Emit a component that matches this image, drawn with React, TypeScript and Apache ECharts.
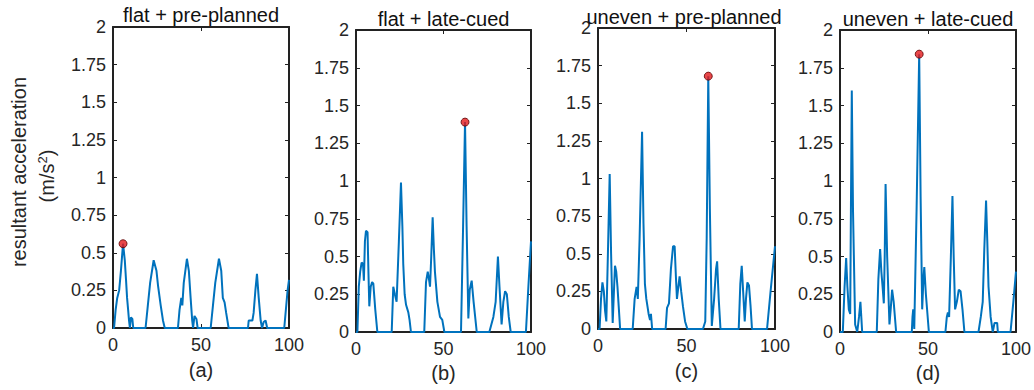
import React, { useEffect, useRef } from "react";
import * as echarts from "echarts";

// ---- data ----
const xA = [0, 0.6, 1.5, 2.4, 3.5, 4.5, 5.7, 6.7, 7.4, 8, 8.6, 9.1, 9.6, 10.2, 11, 11.5, 18.5, 19.8, 21.1, 23.1, 24.7, 25.6, 27.1, 28.4, 29.4, 36.9, 37.8, 38.8, 39.4, 40.2, 42, 43.1, 44.1, 45, 45.5, 46.3, 47.4, 48.1, 55.5, 56.8, 58.1, 60.2, 61.5, 62.4, 63.4, 64.3, 65.7, 76.7, 77.1, 79.2, 79.9, 80.9, 81.8, 82.8, 83.9, 84.7, 85.6, 86.7, 87.6, 97.3, 99.2, 100];
const yA = [0, 0, 0.12, 0.2, 0.25, 0.38, 0.56, 0.45, 0.32, 0.2, 0.12, 0.05, 0, 0.07, 0.06, 0, 0, 0.15, 0.3, 0.45, 0.38, 0.28, 0.15, 0.05, 0, 0, 0.12, 0.2, 0.15, 0.3, 0.46, 0.38, 0.2, 0.05, 0, 0.08, 0.06, 0, 0, 0.15, 0.3, 0.46, 0.38, 0.2, 0.17, 0.1, 0, 0, 0.05, 0.05, 0.1, 0.25, 0.36, 0.2, 0.05, 0, 0.04, 0.05, 0, 0, 0.25, 0.32];

const xB = [0, 0.8, 1.6, 2.4, 3.2, 4, 4.5, 5.1, 5.7, 6.6, 7.1, 7.6, 8.4, 9.2, 9.9, 11, 12.2, 20.4, 21.3, 22.2, 23.2, 24.5, 25.7, 26.5, 27, 27.8, 28.6, 29.9, 30.6, 31.4, 39, 40, 41, 41.7, 42.3, 43, 43.8, 44.5, 45.1, 46.5, 48, 49.3, 50.5, 60, 61.2, 62.3, 63.2, 64.2, 65, 66.1, 67.2, 69, 76.2, 78.5, 79.8, 81.1, 82, 83.2, 84.2, 85.2, 86.2, 87.3, 88.4, 97.1, 98.5, 100];
const yB = [0, 0, 0.3, 0.4, 0.46, 0.45, 0.34, 0.6, 0.67, 0.66, 0.4, 0.17, 0.3, 0.33, 0.32, 0.15, 0, 0, 0.3, 0.25, 0.2, 0.6, 0.99, 0.7, 0.45, 0.25, 0.18, 0.13, 0.08, 0, 0, 0.33, 0.4, 0.35, 0.3, 0.5, 0.76, 0.55, 0.4, 0.2, 0.1, 0.08, 0, 0, 0.7, 1.39, 0.7, 0.09, 0.28, 0.34, 0.2, 0, 0, 0.1, 0.2, 0.5, 0.3, 0.05, 0.2, 0.27, 0.25, 0.1, 0, 0, 0.3, 0.6];

const xC = [0, 0.9, 1.7, 2.5, 3.3, 4, 4.7, 5.6, 6.6, 7.4, 8.3, 9, 9.6, 10.3, 11, 11.7, 12.5, 19.6, 20.7, 21.8, 22.5, 23.5, 24.9, 25.7, 26.5, 27.3, 28.6, 29.4, 29.9, 30.6, 38.2, 39, 40.1, 41.2, 42.4, 43.3, 44, 44.6, 45.4, 46.1, 47, 48, 49.2, 50.5, 59.3, 60.6, 61.4, 62.3, 63.2, 64.3, 65.6, 66.7, 67.3, 68.2, 69.2, 79.5, 80.4, 81.2, 82, 82.9, 83.6, 84.4, 85.3, 86.2, 87, 95.5, 97.5, 100];
const yC = [0, 0, 0.2, 0.31, 0.25, 0.12, 0.05, 0.5, 1.03, 0.5, 0.04, 0.25, 0.42, 0.38, 0.28, 0.15, 0, 0, 0.2, 0.28, 0.2, 0.6, 1.31, 0.7, 0.3, 0.2, 0.1, 0.06, 0.1, 0, 0, 0.14, 0.17, 0.4, 0.55, 0.55, 0.35, 0.2, 0.28, 0.35, 0.25, 0.15, 0.05, 0, 0, 0.05, 0.6, 1.68, 0.8, 0.02, 0.2, 0.4, 0.45, 0.2, 0, 0, 0.3, 0.42, 0.25, 0.05, 0.2, 0.31, 0.29, 0.15, 0, 0, 0.25, 0.55];

const xD = [0, 1.6, 2.6, 3.5, 4.2, 5, 5.8, 6.2, 6.7, 7.4, 8.6, 9.8, 10.8, 11.6, 12.1, 12.6, 20.9, 21.8, 22.8, 23.5, 24.2, 24.9, 25.4, 25.9, 26.8, 28.1, 28.8, 29.6, 30.5, 31.9, 40.8, 41.2, 41.6, 42.2, 43.5, 45, 45.8, 46.7, 47.4, 47.9, 48.8, 50.5, 59.9, 60.7, 61.3, 62, 63, 63.9, 64.6, 65.4, 66.4, 67.5, 68.5, 69.6, 70.7, 78.7, 80, 81.1, 82, 83, 83.7, 84.4, 85.6, 86.8, 87.8, 89.3, 89.7, 96.9, 98.5, 100];
const yD = [0, 0, 0.3, 0.49, 0.3, 0.15, 0.12, 0.8, 1.6, 0.8, 0.05, 0, 0.1, 0.2, 0.1, 0, 0, 0.35, 0.55, 0.4, 0.3, 0.19, 0.5, 0.98, 0.5, 0.05, 0.15, 0.28, 0.2, 0, 0, 0.1, 0.15, 0.02, 0.8, 1.84, 0.9, 0.15, 0.35, 0.43, 0.25, 0, 0, 0.1, 0.13, 0.1, 0.5, 0.9, 0.5, 0.15, 0.2, 0.28, 0.27, 0.15, 0, 0, 0.1, 0.2, 0.55, 0.87, 0.6, 0.3, 0.1, 0, 0.06, 0.06, 0, 0, 0.2, 0.4];

const panelTitles = ["flat + pre-planned", "flat + late-cued", "uneven + pre-planned", "uneven + late-cued"];
const panelTags = ["(a)", "(b)", "(c)", "(d)"];
const yLabelLine1 = "resultant acceleration";
const xRange = { min: 0, max: 100, interval: 50 };
const yRange = { min: 0, max: 2, interval: 0.25 };

const seriesX = [xA, xB, xC, xD];
const seriesY = [yA, yB, yC, yD];

// ---- layout ----
const grids = [
  { left: 113, top: 27, width: 176, height: 301 },
  { left: 356, top: 30, width: 175, height: 302 },
  { left: 598, top: 28, width: 177, height: 301 },
  { left: 840, top: 30, width: 176, height: 302 },
];
const titlePos = [
  { x: 201, y: 15 },
  { x: 443.5, y: 18.5 },
  { x: 684, y: 16.5 },
  { x: 928, y: 18.5 },
];
const tagY = [370, 372.5, 371, 372.5];

const FONT = '"Liberation Sans", Arial, Helvetica, sans-serif';
const TXT = "#262626";
const AX = "#222222";
const LINE = "#0072BD";

export default function App() {
  const ref = useRef<HTMLDivElement>(null);
  useEffect(() => {
    if (!ref.current) return;
    const chart = echarts.init(ref.current, undefined, { renderer: "svg" });

    const xAxes: any[] = [];
    const yAxes: any[] = [];
    const series: any[] = [];
    const graphics: any[] = [];

    grids.forEach((g, i) => {
      const tick = { show: true, inside: true, length: 4, lineStyle: { color: AX, width: 1 } };
      const axLine = { show: true, onZero: false, lineStyle: { color: AX, width: 2 } };
      xAxes.push({
        type: "value", gridIndex: i, position: "bottom", ...xRange,
        axisLine: axLine, axisTick: tick, splitLine: { show: false },
        axisLabel: { show: true, margin: 8, fontFamily: FONT, fontSize: 18, color: TXT, showMinLabel: true, showMaxLabel: true },
      });
      xAxes.push({
        type: "value", gridIndex: i, position: "top", ...xRange,
        axisLine: axLine, axisTick: tick, splitLine: { show: false }, axisLabel: { show: false },
      });
      yAxes.push({
        type: "value", gridIndex: i, position: "left", ...yRange,
        axisLine: axLine, axisTick: tick, splitLine: { show: false },
        axisLabel: { show: true, margin: 7, fontFamily: FONT, fontSize: 18, color: TXT, showMinLabel: true, showMaxLabel: true },
      });
      yAxes.push({
        type: "value", gridIndex: i, position: "right", ...yRange,
        axisLine: axLine, axisTick: tick, splitLine: { show: false }, axisLabel: { show: false },
      });

      const xs = seriesX[i];
      const ys = seriesY[i];
      const pts = xs.map((x, k) => [x, ys[k]]);
      let maxK = 0;
      ys.forEach((v, k) => { if (v > ys[maxK]) maxK = k; });

      series.push({
        type: "line", xAxisIndex: 2 * i, yAxisIndex: 2 * i, data: pts,
        showSymbol: false, symbol: "none", smooth: false,
        lineStyle: { color: LINE, width: 2 }, z: 3,
      });
      series.push({
        type: "scatter", xAxisIndex: 2 * i, yAxisIndex: 2 * i, data: [[xs[maxK], ys[maxK]]],
        symbol: "circle", symbolSize: 8,
        itemStyle: { color: "#e3191c", borderColor: "#5a0000", borderWidth: 1 }, z: 5,
      });

      graphics.push({
        type: "text", x: titlePos[i].x, y: titlePos[i].y, z: 10,
        style: {
          text: panelTitles[i], font: `20px ${FONT}`, fill: "#111",
          textAlign: "center", textVerticalAlign: "middle", align: "center", verticalAlign: "middle",
        },
      });
      graphics.push({
        type: "text", x: g.left + g.width / 2, y: tagY[i], z: 10,
        style: {
          text: panelTags[i], font: `20px ${FONT}`, fill: TXT,
          textAlign: "center", textVerticalAlign: "middle", align: "center", verticalAlign: "middle",
        },
      });
    });

    graphics.push({
      type: "text", x: 19, y: 172, rotation: Math.PI / 2, z: 10,
      style: {
        text: yLabelLine1, font: `20px ${FONT}`, fill: TXT,
        textAlign: "center", textVerticalAlign: "middle", align: "center", verticalAlign: "middle",
      },
    });
    graphics.push({
      type: "text", x: 47, y: 176, rotation: Math.PI / 2, z: 10,
      style: {
        text: "(m/s{sup|2})", font: `20px ${FONT}`, fill: TXT,
        textAlign: "center", textVerticalAlign: "middle", align: "center", verticalAlign: "middle",
        rich: { sup: { fontSize: 13, fontFamily: FONT, fill: TXT, verticalAlign: "top", lineHeight: 22, padding: [0, 0, 8, 0] } },
      },
    });

    chart.setOption({
      animation: false,
      backgroundColor: "#ffffff",
      grid: grids.map((g) => ({ ...g, containLabel: false })),
      xAxis: xAxes,
      yAxis: yAxes,
      series,
      graphic: { elements: graphics },
    });
    return () => chart.dispose();
  }, []);
  return <div ref={ref} style={{ position: "absolute", left: 0, top: 0, width: 1034, height: 390 }} />;
}
